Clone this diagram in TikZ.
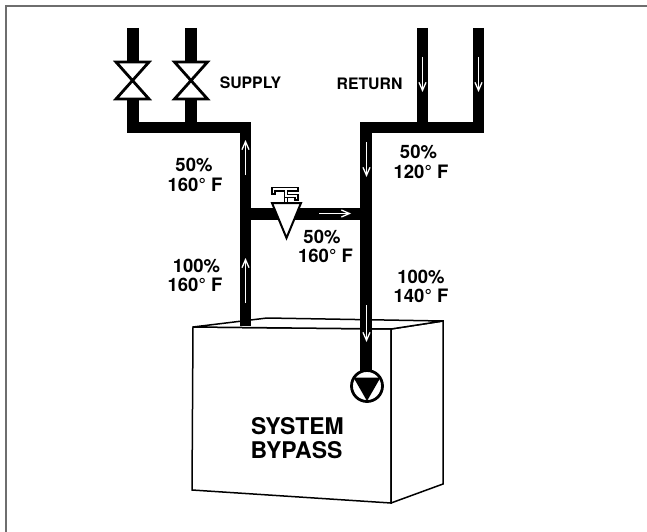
\documentclass[tikz,border=0pt]{standalone}
\usepackage{fontspec}
\setmainfont{TeX Gyre Heros}
\usetikzlibrary{arrows.meta}
\definecolor{framegray}{HTML}{6E6E6E}
\begin{document}
\begin{tikzpicture}[x=1pt,y=-1pt,
  pipe/.style={line width=11.5pt,line join=miter},
  flow/.style={white,line width=1.3pt,-{Straight Barb[length=8pt,width=7pt]}},
  valvebody/.style={draw,line width=2.8pt,fill=white,line join=miter},
  lbl/.style={font=\bfseries\fontsize{18.5}{20}\selectfont,anchor=base,inner sep=0pt},
  small/.style={font=\bfseries\fontsize{15.8}{18}\selectfont,anchor=base,inner sep=0pt},
  big/.style={font=\bfseries\fontsize{23}{24}\selectfont,anchor=base,inner sep=0pt},
  boxline/.style={line width=1.5pt,line join=miter}]
\useasboundingbox (0,0) rectangle (647,532);
% frame
\draw[framegray,line width=2pt] (5.5,532) -- (5.5,6.5) -- (647,6.5);

% named points
\coordinate (s1top) at (133,28);
\coordinate (s1vt) at (133,62);
\coordinate (s1vb) at (133,99);
\coordinate (s2top) at (191,28);
\coordinate (s2vt) at (191,62);
\coordinate (s2vb) at (191,99);
\coordinate (s1h) at (133,127.5);
\coordinate (s2h) at (191,127.5);
\coordinate (sc) at (245.5,127.5);
\coordinate (sb) at (245.5,214);
\coordinate (sbot) at (245.5,326);
\coordinate (r1top) at (422.5,28);
\coordinate (r2top) at (478.5,28);
\coordinate (r1h) at (422.5,127.5);
\coordinate (r2h) at (478.5,127.5);
\coordinate (rc) at (366,127.5);
\coordinate (rb) at (366,214);
\coordinate (rbot) at (366,371);

% box
\draw[boxline,fill=white] (193,327) -- (391,329) -- (391,503) -- (192,490) -- cycle;
\draw[boxline,fill=white] (391,329) -- (443,321) -- (443,484) -- (391,503) -- cycle;
\draw[boxline,fill=white] (193,327) -- (267,318) -- (443,321) -- (391,329) -- cycle;

% supply pipes
\draw[pipe] (s1top) -- (s1vt);
\draw[pipe] (s2top) -- (s2vt);
\draw[pipe] (s1vb) -- (s1h) -- (sc) -- (sbot);
\draw[pipe] (s2vb) -- (s2h);
% return pipes
\draw[pipe] (r2top) -- (r2h) -- (rc) -- (rbot);
\draw[pipe] (r1top) -- (r1h);
% bypass
\draw[pipe] (sb) -- (rb);

% supply valves
\draw[valvebody] (116,62) -- (149,62) -- (116,99) -- (149,99) -- cycle;
\draw[valvebody] (174.5,62) -- (207.5,62) -- (174.5,99) -- (207.5,99) -- cycle;

% bypass valve
\draw[line width=2pt,fill=white,line join=miter] (272,203) -- (301,203) -- (286.5,238) -- cycle;
\draw[line width=1.3pt,fill=white] (272,187.5) -- (298,187.5) -- (298,191) -- (287.5,191) -- (287.5,194.5)
  -- (298,194.5) -- (298,200) -- (295,200) -- (295,197.5) -- (284.5,197.5) -- (284.5,191)
  -- (275,191) -- (275,194) -- (272,194) -- cycle;
\draw[line width=1.3pt] (284.5,197.5) -- (284.5,203);
\draw[line width=1.3pt] (287.5,197.5) -- (287.5,203);

% pump
\draw[line width=2.8pt,fill=white] (367,386) circle[radius=15.5];
\fill (353.5,377.5) -- (380.5,377.5) -- (367,401) -- cycle;

% flow arrows
\draw[flow] (422.5,57) -- (422.5,92);
\draw[flow] (478.5,57) -- (478.5,92);
\draw[flow] (366.5,142) -- (366.5,177);
\draw[flow] (366.5,305) -- (366.5,342);
\draw[flow] (245.5,175) -- (245.5,140);
\draw[flow] (245.5,303) -- (245.5,258);
\draw[flow] (319,213.5) -- (351,213.5);

% labels
\node[small] (supply) at (250.5,88.3) {SUPPLY};
\node[small] (return) at (369.5,89.8) {RETURN};
\node[lbl] (lu1) at (194,171) {50\%};
\node[lbl] (lu2) at (195,191) {160° F};
\node[lbl] (ll1) at (196.5,272.7) {100\%};
\node[lbl] (ll2) at (195,291.7) {160° F};
\node[lbl] (m1) at (322,243) {50\%};
\node[lbl] (m2) at (325.5,262) {160° F};
\node[lbl] (ru1) at (418.5,158) {50\%};
\node[lbl] (ru2) at (421,178) {120° F};
\node[lbl] (rl1) at (421,283) {100\%};
\node[lbl] (rl2) at (421,302) {140° F};
\node[big] (sys1) at (297.5,434) {SYSTEM};
\node[big] (sys2) at (296.5,458) {BYPASS};
\end{tikzpicture}
\end{document}
